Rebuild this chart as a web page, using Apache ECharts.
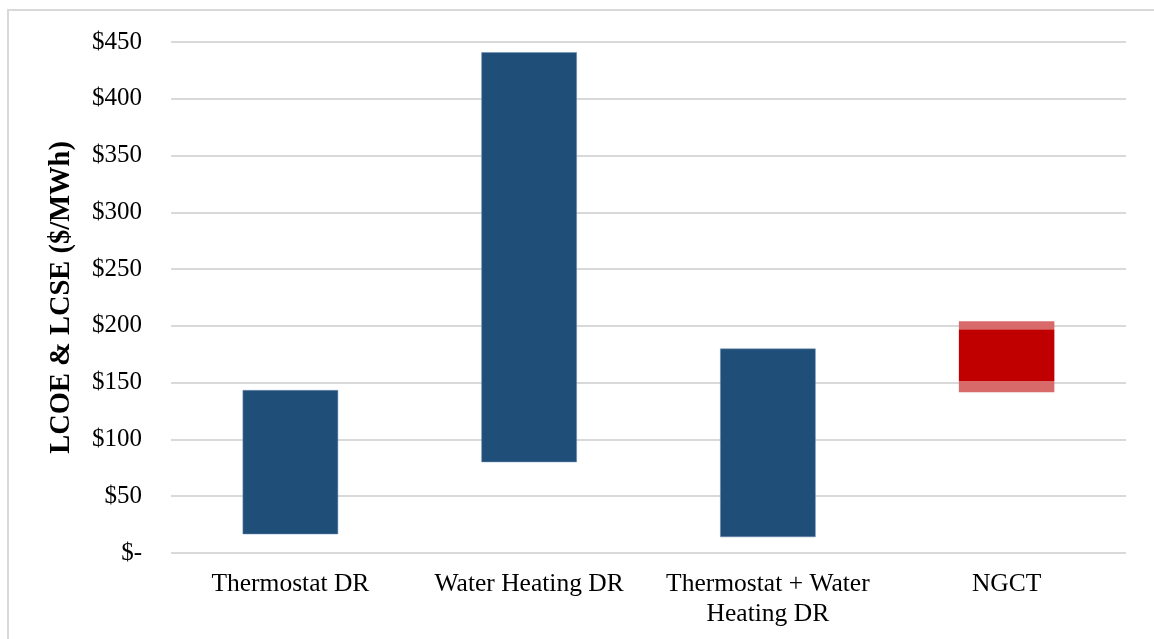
<!DOCTYPE html>
<html>
<head>
<meta charset="utf-8">
<script src="https://cdn.jsdelivr.net/npm/echarts@6/dist/echarts.min.js"></script>
<style>
html,body{margin:0;padding:0;background:#fff;}
#chart{width:1154px;height:639px;}
</style>
</head>
<body>
<div id="chart"></div>
<script>
// Data
var categories = ['Thermostat DR', 'Water Heating DR', 'Thermostat + Water\nHeating DR', 'NGCT'];
var lowValues = [16.5, 80, 14, 141.5];
var highValues = [143.5, 441, 180, 204];
// NGCT inner (darker) band
var ngctInnerLow = 151.5;
var ngctInnerHigh = 197;
var yTicks = [0, 50, 100, 150, 200, 250, 300, 350, 400, 450];

var ngctIndex = 3;
var baseData = lowValues.slice();
var drRange = lowValues.map(function (l, i) { return i === ngctIndex ? '-' : +(highValues[i] - l).toFixed(2); });
var ngctLowBand = categories.map(function (c, i) { return i === ngctIndex ? +(ngctInnerLow - lowValues[i]).toFixed(2) : '-'; });
var ngctMid = categories.map(function (c, i) { return i === ngctIndex ? +(ngctInnerHigh - ngctInnerLow).toFixed(2) : '-'; });
var ngctHighBand = categories.map(function (c, i) { return i === ngctIndex ? +(highValues[i] - ngctInnerHigh).toFixed(2) : '-'; });

var serif = '"Liberation Serif", "Times New Roman", serif';
var chart = echarts.init(document.getElementById('chart'));
chart.setOption({
  animation: false,
  backgroundColor: '#ffffff',
  graphic: [{
    type: 'rect',
    shape: { x: 8, y: 10, width: 1200, height: 700 },
    style: { fill: 'none', stroke: '#d9d9d9', lineWidth: 2 },
    silent: true,
    z: -10
  }],
  grid: { left: 171, right: 28, top: 42, bottom: 86, containLabel: false },
  xAxis: {
    type: 'category',
    data: categories,
    axisLine: { show: false },
    axisTick: { show: false },
    axisLabel: {
      interval: 0,
      margin: 16,
      fontFamily: serif,
      fontSize: 25.5,
      lineHeight: 30,
      color: '#000'
    }
  },
  yAxis: {
    type: 'value',
    min: 0,
    max: 450,
    interval: 50,
    name: 'LCOE & LCSE ($/MWh)',
    nameLocation: 'middle',
    nameGap: 95,
    nameRotate: 90,
    nameTextStyle: { fontFamily: serif, fontSize: 28.5, fontWeight: 'bold', color: '#000' },
    axisLine: { show: false },
    axisTick: { show: false },
    splitLine: { lineStyle: { color: '#d9d9d9', width: 2 } },
    axisLabel: {
      margin: 29,
      fontFamily: serif,
      fontSize: 25,
      color: '#000',
      formatter: function (v) { return v === 0 ? '$-' : '$' + v; }
    }
  },
  series: [
    { type: 'bar', stack: 'a', data: baseData, barWidth: '40%', itemStyle: { color: 'rgba(0,0,0,0)' }, silent: true },
    { type: 'bar', stack: 'a', data: drRange, itemStyle: { color: '#1f4e79', borderColor: '#6f8fb3', borderWidth: 0.5 } },
    { type: 'bar', stack: 'a', data: ngctLowBand, itemStyle: { color: '#d96a6a' } },
    { type: 'bar', stack: 'a', data: ngctMid, itemStyle: { color: '#c00000' } },
    { type: 'bar', stack: 'a', data: ngctHighBand, itemStyle: { color: '#d96a6a' } }
  ]
});
</script>
</body>
</html>
